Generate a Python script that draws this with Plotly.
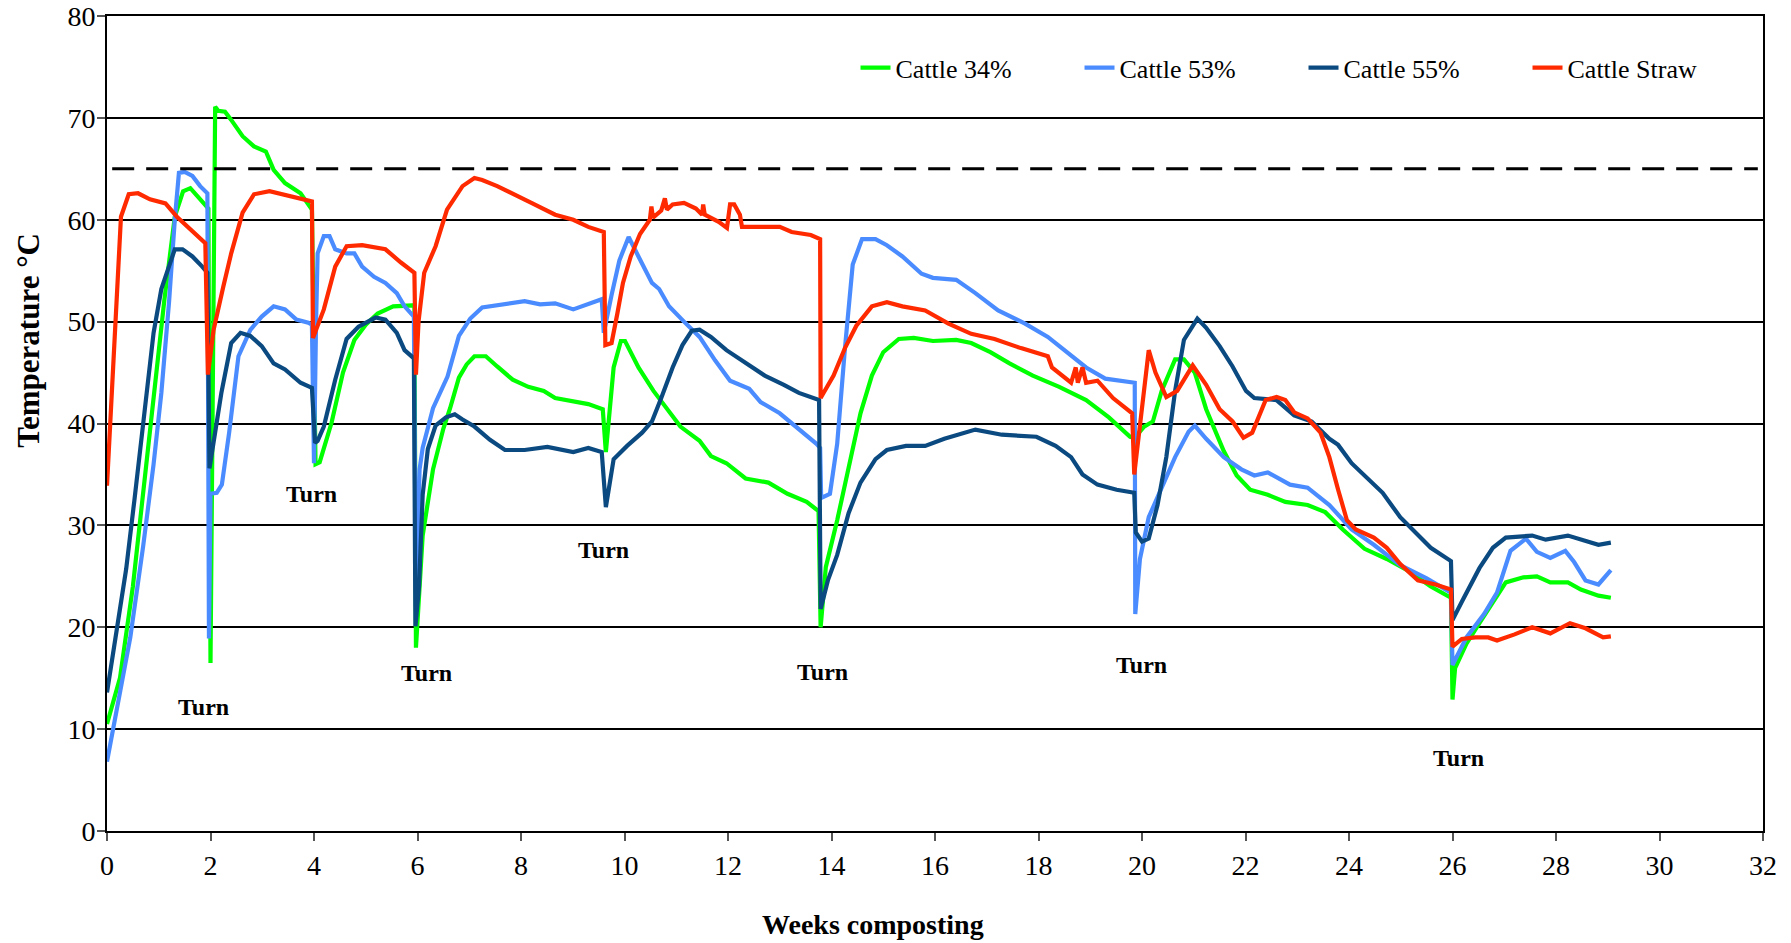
import plotly.graph_objects as go

# ---------------- data (week, temperature °C) ----------------
cattle34 = [
    [0, 10.5], [0.25, 15], [0.5, 24], [0.68, 32.5], [0.9, 42.4], [1.11, 52.2], [1.31, 60.3], [1.47, 62.8],
    [1.61, 63.1], [1.8, 62], [1.96, 61.1], [2.0, 16.5], [2.09, 71.1], [2.15, 70.7], [2.28, 70.6], [2.4, 69.8],
    [2.62, 68.2], [2.84, 67.2], [3.07, 66.7], [3.22, 64.9], [3.44, 63.6], [3.74, 62.6], [3.96, 61], [4.03, 36],
    [4.11, 36.2], [4.34, 40.1], [4.56, 45], [4.78, 48.2], [5.0, 49.7], [5.23, 50.8], [5.53, 51.5], [5.94, 51.6],
    [5.97, 18], [6.1, 29], [6.3, 35.5], [6.5, 39.5], [6.63, 41.5], [6.8, 44.5], [6.95, 45.8], [7.1, 46.6],
    [7.32, 46.6], [7.54, 45.6], [7.84, 44.3], [8.14, 43.6], [8.44, 43.2], [8.66, 42.5], [8.96, 42.2], [9.3, 41.9],
    [9.58, 41.4], [9.64, 37.2], [9.79, 45.5], [9.93, 48.1], [10.01, 48.1], [10.27, 45.5], [10.56, 43.2],
    [10.78, 41.7], [11.08, 39.7], [11.45, 38.3], [11.67, 36.8], [11.97, 36.1], [12.34, 34.6], [12.78, 34.2],
    [13.15, 33.1], [13.52, 32.3], [13.75, 31.4], [13.79, 20], [13.89, 25.9], [14.11, 30.5], [14.33, 35.7],
    [14.56, 41], [14.78, 44.7], [15.0, 47], [15.3, 48.3], [15.59, 48.4], [15.96, 48.1], [16.41, 48.2],
    [16.7, 47.9], [17.07, 47], [17.44, 45.9], [17.89, 44.7], [18.4, 43.6], [18.92, 42.3], [19.36, 40.6],
    [19.77, 38.7], [19.86, 38.6], [20.04, 39.7], [20.21, 40.2], [20.38, 43.2], [20.64, 46.3], [20.81, 46.3],
    [21.02, 45], [21.24, 41.4], [21.58, 37.3], [21.83, 34.9], [22.09, 33.5], [22.43, 33], [22.77, 32.3],
    [23.2, 32], [23.54, 31.3], [23.88, 29.6], [24.3, 27.7], [24.73, 26.7], [25.16, 25.5], [25.58, 24],
    [25.97, 22.9], [26.0, 12.9], [26.05, 16], [26.27, 18.4], [26.52, 20.4], [26.78, 22.5], [27.03, 24.4],
    [27.37, 24.9], [27.63, 25], [27.89, 24.4], [28.23, 24.4], [28.48, 23.7], [28.82, 23.1], [29.06, 22.9],
]

cattle53 = [
    [0, 6.8], [0.2, 12], [0.45, 19], [0.7, 28], [0.9, 36], [1.05, 43], [1.2, 52], [1.31, 60], [1.39, 64.6],
    [1.5, 64.7], [1.65, 64.3], [1.8, 63.3], [1.94, 62.6], [1.97, 18.9], [2.0, 33.1], [2.12, 33.2], [2.22, 34],
    [2.36, 39.1], [2.54, 46.6], [2.77, 49.2], [2.99, 50.5], [3.22, 51.5], [3.44, 51.2], [3.66, 50.2],
    [3.89, 49.9], [3.96, 49.7], [4.0, 36.1], [4.04, 50], [4.07, 56.7], [4.19, 58.4], [4.3, 58.4], [4.41, 57.1],
    [4.63, 56.7], [4.78, 56.7], [4.93, 55.4], [5.16, 54.4], [5.38, 53.8], [5.6, 52.8], [5.75, 51.5],
    [5.93, 50.5], [5.97, 22], [6.04, 35.5], [6.1, 37.6], [6.3, 41.5], [6.58, 44.6], [6.8, 48.6], [7.02, 50.3],
    [7.25, 51.4], [7.62, 51.7], [8.07, 52], [8.37, 51.7], [8.66, 51.8], [9.01, 51.2], [9.3, 51.7], [9.56, 52.2],
    [9.6, 48.9], [9.65, 50], [9.75, 52.6], [9.9, 56], [10.08, 58.3], [10.27, 56.4], [10.53, 53.8],
    [10.67, 53.2], [10.86, 51.5], [11.15, 50], [11.45, 48.5], [11.75, 46.2], [12.04, 44.2], [12.41, 43.4],
    [12.63, 42.1], [13.0, 41], [13.37, 39.5], [13.71, 38], [13.78, 37.6], [13.8, 32.7], [13.97, 33.1],
    [14.11, 38], [14.26, 47.4], [14.41, 55.6], [14.59, 58.1], [14.85, 58.1], [15.07, 57.5], [15.37, 56.4],
    [15.74, 54.7], [15.96, 54.3], [16.41, 54.1], [16.78, 52.8], [17.22, 51.1], [17.74, 49.8], [18.18, 48.5],
    [18.55, 47], [18.92, 45.5], [19.29, 44.4], [19.53, 44.2], [19.86, 44], [19.87, 21.3], [19.96, 26.7],
    [20.13, 30.8], [20.38, 33.7], [20.64, 36.7], [20.9, 39.2], [21.02, 39.8], [21.24, 38.5], [21.58, 36.7],
    [21.92, 35.5], [22.17, 34.9], [22.43, 35.2], [22.86, 34], [23.2, 33.7], [23.62, 32], [24.05, 29.6],
    [24.48, 28.1], [24.99, 26.1], [25.5, 24.8], [25.97, 23.4], [26.0, 16.3], [26.27, 19], [26.61, 21.3],
    [26.86, 23.4], [27.12, 27.5], [27.42, 28.7], [27.63, 27.4], [27.89, 26.8], [28.18, 27.5], [28.35, 26.4],
    [28.57, 24.6], [28.82, 24.2], [28.95, 24.9], [29.06, 25.6],
]

cattle55 = [
    [0, 13.6], [0.2, 20], [0.37, 25.7], [0.53, 32.5], [0.7, 40], [0.9, 48.9], [1.05, 53.2], [1.2, 55.4],
    [1.31, 57.1], [1.46, 57.1], [1.65, 56.4], [1.84, 55.4], [1.94, 54.8], [1.98, 35.6], [2.06, 38.1],
    [2.21, 43], [2.4, 47.9], [2.58, 48.9], [2.77, 48.6], [2.99, 47.6], [3.22, 45.9], [3.44, 45.3], [3.74, 44],
    [3.96, 43.5], [4.02, 38.1], [4.07, 38.3], [4.19, 39.7], [4.41, 44.3], [4.63, 48.3], [4.86, 49.5],
    [5.19, 50.4], [5.38, 50.2], [5.6, 48.9], [5.75, 47.2], [5.93, 46.4], [5.96, 20.1], [6.03, 24], [6.1, 33],
    [6.2, 37.5], [6.35, 39.8], [6.55, 40.6], [6.72, 40.9], [6.87, 40.4], [7.1, 39.7], [7.4, 38.4], [7.69, 37.4],
    [8.07, 37.4], [8.51, 37.7], [9.01, 37.2], [9.3, 37.6], [9.56, 37.2], [9.64, 31.8], [9.79, 36.5],
    [10.05, 37.8], [10.34, 39.1], [10.53, 40.2], [10.71, 42.5], [10.93, 45.5], [11.12, 47.7], [11.3, 49.1],
    [11.45, 49.2], [11.67, 48.5], [11.97, 47.2], [12.34, 45.9], [12.71, 44.7], [13.08, 43.8], [13.37, 43],
    [13.76, 42.3], [13.79, 21.8], [13.93, 24.6], [14.11, 27.1], [14.33, 31.2], [14.56, 34.2], [14.85, 36.5],
    [15.07, 37.4], [15.44, 37.8], [15.81, 37.8], [16.18, 38.5], [16.55, 39.1], [16.78, 39.4], [17.29, 38.9],
    [17.96, 38.7], [18.33, 37.8], [18.63, 36.7], [18.85, 35], [19.14, 34], [19.51, 33.5], [19.85, 33.2],
    [19.88, 29.3], [20.0, 28.4], [20.13, 28.7], [20.3, 32], [20.47, 36.7], [20.64, 43.2], [20.81, 48.2],
    [21.07, 50.3], [21.24, 49.4], [21.5, 47.6], [21.75, 45.6], [22.01, 43.2], [22.17, 42.5], [22.6, 42.3],
    [22.94, 40.8], [23.28, 40.2], [23.62, 38.5], [23.79, 37.9], [24.05, 36.1], [24.3, 34.9], [24.65, 33.2],
    [24.99, 30.8], [25.33, 29], [25.58, 27.8], [25.97, 26.5], [26.0, 20.7], [26.18, 22.5], [26.52, 25.8],
    [26.78, 27.8], [27.03, 28.8], [27.54, 29], [27.8, 28.6], [28.23, 29], [28.57, 28.5], [28.82, 28.1],
    [29.06, 28.3],
]

cattle_straw = [
    [0, 33.9], [0.16, 48.9], [0.27, 60.3], [0.42, 62.5], [0.6, 62.6], [0.83, 62], [1.13, 61.6], [1.35, 60.3],
    [1.57, 59.3], [1.76, 58.4], [1.9, 57.7], [1.95, 44.8], [2.06, 49.2], [2.25, 53.5], [2.4, 56.7],
    [2.62, 60.7], [2.84, 62.5], [3.14, 62.8], [3.44, 62.4], [3.74, 62], [3.96, 61.8], [3.98, 48.4],
    [4.19, 51.2], [4.41, 55.4], [4.63, 57.4], [4.93, 57.5], [5.38, 57.1], [5.68, 55.8], [5.94, 54.8],
    [5.97, 44.8], [6.02, 50], [6.13, 54.8], [6.35, 57.4], [6.57, 61], [6.87, 63.3], [7.1, 64.1], [7.25, 63.9],
    [7.54, 63.3], [7.92, 62.3], [8.22, 61.6], [8.66, 60.5], [9.01, 60], [9.3, 59.3], [9.6, 58.8], [9.63, 47.7],
    [9.75, 47.9], [9.86, 50.75], [9.97, 53.8], [10.12, 56.4], [10.3, 58.6], [10.49, 60], [10.52, 61.3],
    [10.55, 60.2], [10.71, 60.9], [10.78, 62.1], [10.82, 61], [10.93, 61.5], [11.15, 61.65], [11.38, 61.1],
    [11.5, 60.5], [11.52, 61.5], [11.55, 60.5], [11.82, 59.8], [11.98, 59.2], [12.04, 61.5], [12.12, 61.5],
    [12.23, 60.5], [12.27, 59.3], [13.0, 59.3], [13.23, 58.8], [13.6, 58.5], [13.78, 58.1], [13.79, 42.5],
    [14.04, 44.7], [14.26, 47.4], [14.48, 49.6], [14.78, 51.5], [15.07, 51.9], [15.37, 51.5], [15.81, 51.1],
    [16.26, 49.8], [16.7, 48.8], [17.15, 48.3], [17.66, 47.4], [18.18, 46.6], [18.26, 45.5], [18.63, 44],
    [18.72, 45.5], [18.76, 44], [18.85, 45.5], [18.92, 44], [19.14, 44.2], [19.44, 42.5], [19.81, 41],
    [19.85, 35], [20.0, 42], [20.13, 47.2], [20.26, 45], [20.47, 42.6], [20.68, 43.2], [20.98, 45.7],
    [21.24, 43.8], [21.5, 41.4], [21.75, 40.2], [21.96, 38.6], [22.13, 39.1], [22.39, 42.3], [22.6, 42.6],
    [22.77, 42.3], [22.94, 41.1], [23.2, 40.5], [23.45, 39.1], [23.62, 36.7], [23.79, 33.5], [23.96, 30.5],
    [24.13, 29.6], [24.48, 28.8], [24.73, 27.8], [24.99, 26.2], [25.33, 24.6], [25.67, 24.2], [25.97, 23.7],
    [26.0, 18.1], [26.18, 18.85], [26.44, 19], [26.69, 19], [26.86, 18.7], [27.2, 19.3], [27.54, 20],
    [27.89, 19.4], [28.27, 20.4], [28.57, 19.9], [28.91, 19], [29.06, 19.1],
]

series_names = ["Cattle 34%", "Cattle 53%", "Cattle 55%", "Cattle Straw"]
series_data = [cattle34, cattle53, cattle55, cattle_straw]
series_colors = ["#00FF00", "#4A8CFF", "#0B4A80", "#FF2A00"]

threshold = 65
turn_weeks = [1.87, 3.95, 6.17, 9.6, 13.82, 19.99, 26.12]
turn_temps = [12.2, 33.1, 15.5, 27.6, 15.6, 16.3, 7.2]

x_ticks = list(range(0, 33, 2))
y_ticks = list(range(0, 81, 10))

FONT = "Liberation Serif, Times New Roman, serif"

fig = go.Figure()
for name, pts, col in zip(series_names, series_data, series_colors):
    fig.add_trace(go.Scatter(
        x=[p[0] for p in pts], y=[p[1] for p in pts], mode="lines", name=name,
        line=dict(color=col, width=4.2),
    ))

fig.add_shape(type="line", xref="x", yref="y", x0=0.1, x1=31.9, y0=threshold, y1=threshold,
              line=dict(color="black", width=3, dash="22px,12px"))

for wx, wy in zip(turn_weeks, turn_temps):
    fig.add_annotation(x=wx, y=wy, xref="x", yref="y", text="<b>Turn</b>", showarrow=False,
                       font=dict(family=FONT, size=24, color="black"))

fig.add_annotation(x=0.4628, y=-0.1153, xref="paper", yref="paper", text="<b>Weeks composting</b>",
                   showarrow=False, font=dict(family=FONT, size=28, color="black"), yanchor="middle")
fig.add_annotation(x=-0.0472, y=0.6025, xref="paper", yref="paper", text="<b>Temperature °C</b>",
                   showarrow=False, textangle=-90, font=dict(family=FONT, size=31, color="black"),
                   xanchor="center", yanchor="middle")

fig.update_layout(
    width=1791, height=943,
    margin=dict(l=107, r=28, t=16, b=112, autoexpand=False),
    paper_bgcolor="white", plot_bgcolor="white",
    font=dict(family=FONT, size=26, color="black"),
    showlegend=True,
    legend=dict(orientation="h", x=0.452, y=0.9365, xanchor="left", yanchor="middle",
                font=dict(family=FONT, size=26, color="black"), entrywidth=179,
                bgcolor="rgba(0,0,0,0)", traceorder="normal"),
    xaxis=dict(range=[0, 32], tickvals=x_ticks, ticks="outside", ticklen=8, tickwidth=1.5,
               tickcolor="#555", showline=True, linecolor="black", linewidth=2, mirror=True,
               showgrid=False, zeroline=False, automargin=False, tickfont=dict(family=FONT, size=28)),
    yaxis=dict(range=[0, 80], tickvals=y_ticks, ticks="outside", ticklen=8, tickwidth=1.5,
               tickcolor="#555", showline=True, linecolor="black", linewidth=2, mirror=True,
               showgrid=True, gridcolor="black", gridwidth=1.6, zeroline=False, automargin=False,
               ticklabelstandoff=-4, tickfont=dict(family=FONT, size=28)),
)

fig.write_html("out.html")
